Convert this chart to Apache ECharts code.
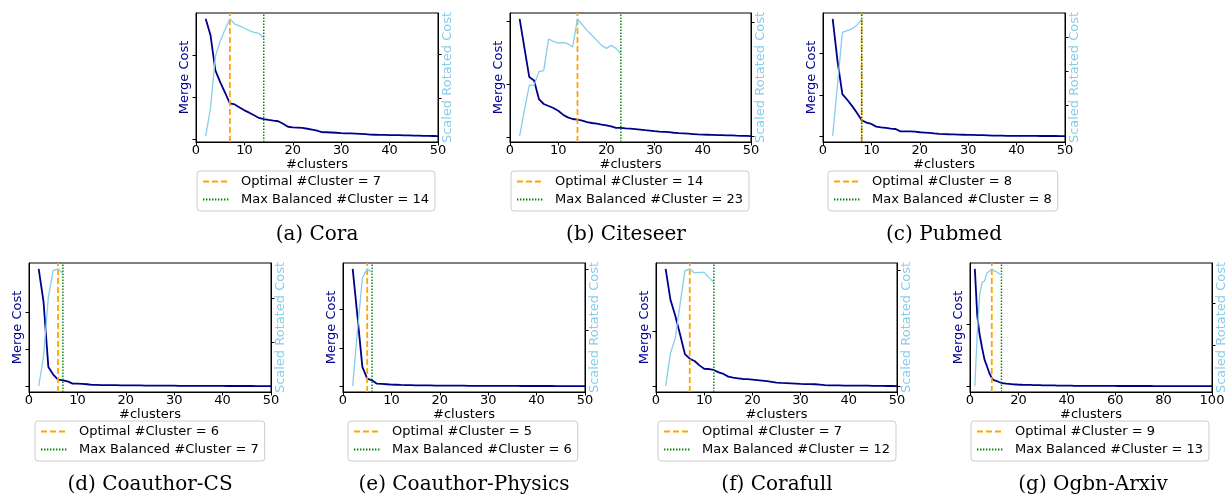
<!DOCTYPE html>
<html><head><meta charset="utf-8">
<script src="https://cdn.jsdelivr.net/npm/echarts@6/dist/echarts.min.js"></script>
<style>html,body{margin:0;padding:0;background:#fff}#c{width:1225px;height:495px}</style>
</head><body><div id="c"></div><script>
// ---------------- DATA ----------------
const firstCluster = 2; // first #clusters value in every series
const captions = ['(a) Cora', '(b) Citeseer', '(c) Pubmed', '(d) Coauthor-CS', '(e) Coauthor-Physics', '(f) Corafull', '(g) Ogbn-Arxiv'];
const optimalK = [7, 14, 8, 6, 5, 7, 9];
const balancedK = [14, 23, 8, 7, 6, 12, 13];
const xMax = [50, 50, 50, 50, 50, 50, 100];
const xInterval = [10, 10, 10, 10, 10, 10, 20];

// Merge cost (scaled 0..100), #clusters = 2 .. xMax
const coraMerge = [100, 86, 56, 46, 37, 28, 27, 24.5, 22, 20, 17.8, 15.5, 14.5, 13.8, 13.2, 12.7, 10.5, 8, 7.5, 7.3, 7, 6.3, 5.5, 4.6, 3.5, 3.3, 3.1, 2.9, 2.6, 2.4, 2.3, 2.2, 2.0, 1.7, 1.3, 1.2, 1.1, 1.0, 0.9, 0.8, 0.8, 0.7, 0.6, 0.5, 0.4, 0.3, 0.2, 0.1, 0];
const citeseerMerge = [100, 75, 50.4, 47.5, 31.6, 27.4, 25.7, 24, 21.7, 18.3, 16, 14.6, 14, 13.2, 12, 11.2, 10.6, 9.8, 9.2, 8.4, 7, 7, 6.6, 6.4, 6, 5.6, 5.1, 4.7, 4.2, 3.9, 3.7, 3.4, 2.9, 2.5, 2.3, 2.1, 1.8, 1.5, 1.3, 1.2, 1.1, 0.9, 0.8, 0.7, 0.6, 0.4, 0.3, 0.2, 0];
const pubmedMerge = [100, 64, 35.8, 31, 25.8, 20, 13.5, 11.5, 10.4, 8.1, 7.5, 7, 6.4, 6.1, 4.1, 4.1, 4.0, 3.8, 3.3, 3.0, 2.7, 2.3, 2.0, 1.8, 1.6, 1.5, 1.3, 1.2, 1.1, 1.0, 0.9, 0.8, 0.7, 0.5, 0.4, 0.4, 0.3, 0.3, 0.3, 0.2, 0.2, 0.2, 0.2, 0.1, 0.1, 0.1, 0.1, 0, 0];
const coauthorCsMerge = [100, 72, 16.4, 9.9, 5.6, 5, 4.1, 2.1, 2.1, 1.9, 1.6, 1.0, 1.0, 0.9, 0.9, 0.8, 0.8, 0.7, 0.7, 0.6, 0.6, 0.6, 0.5, 0.5, 0.5, 0.4, 0.4, 0.4, 0.4, 0.3, 0.3, 0.3, 0.3, 0.3, 0.2, 0.2, 0.2, 0.2, 0.2, 0.1, 0.1, 0.1, 0.1, 0.1, 0.1, 0, 0, 0, 0];
const coauthorPhysicsMerge = [100, 59, 16.4, 6.4, 5, 2.1, 1.9, 1.6, 1.3, 1.2, 1.0, 0.9, 0.8, 0.7, 0.7, 0.6, 0.6, 0.5, 0.5, 0.5, 0.4, 0.4, 0.4, 0.4, 0.3, 0.3, 0.3, 0.3, 0.3, 0.2, 0.2, 0.2, 0.2, 0.2, 0.2, 0.1, 0.1, 0.1, 0.1, 0.1, 0.1, 0.1, 0, 0, 0, 0, 0, 0, 0];
const corafullMerge = [100, 73.6, 60, 44, 27.3, 23.4, 21.4, 17.7, 14.8, 14.6, 13.8, 11.7, 10.4, 8.1, 7.3, 6.7, 6.1, 5.9, 5.6, 5.2, 4.7, 4.2, 3.6, 3.0, 2.7, 2.5, 2.3, 2.1, 1.9, 1.8, 1.7, 1.6, 1.2, 0.8, 0.7, 0.7, 0.6, 0.5, 0.5, 0.5, 0.4, 0.4, 0.4, 0.3, 0.3, 0.2, 0.1, 0.1, 0];
const arxivMerge = [100, 60, 43.8, 32.5, 22.6, 16.9, 11.2, 6.9, 4.9, 4.4, 3.5, 2.7, 2.4, 2.1, 1.9, 1.7, 1.5, 1.4, 1.2,
  1.2, 1.1, 1.1, 1.0, 1.0, 0.9, 0.9, 0.8, 0.8, 0.7, 0.7, 0.7, 0.6, 0.6, 0.6, 0.5, 0.5, 0.5, 0.4, 0.4,
  0.4, 0.4, 0.3, 0.3, 0.3, 0.3, 0.3, 0.3, 0.2, 0.2, 0.2, 0.2, 0.2, 0.2, 0.2, 0.2, 0.2, 0.2, 0.2, 0.2,
  0.1, 0.1, 0.1, 0.1, 0.1, 0.1, 0.1, 0.1, 0.1, 0.1, 0.1, 0.1, 0.1, 0.1, 0.1,
  0, 0, 0, 0, 0, 0, 0, 0, 0, 0, 0, 0, 0, 0, 0, 0, 0, 0, 0, 0, 0, 0, 0, 0, 0];

// Scaled rotated cost (scaled 0..100), #clusters = 2 .. max balanced
const coraRotated = [0, 24, 68, 81, 91, 100, 95.6, 94, 92, 90, 88.5, 87.6, 83.3];
const citeseerRotated = [0, 22.6, 43.3, 43.6, 55, 55.8, 82.8, 80.8, 79.4, 79.7, 78.8, 76, 100, 95, 90, 86, 81.7, 77.4, 74.8, 77.4, 74.8, 70.3];
const pubmedRotated = [0, 44, 88.5, 90, 91.5, 94.5, 100];
const coauthorCsRotated = [0, 25, 76, 98.7, 100, 96];
const coauthorPhysicsRotated = [0, 48, 92, 100, 97];
const corafullRotated = [0, 28, 41, 70, 98.5, 100, 96.5, 97, 97, 92.5, 88.5];
const arxivRotated = [0, 45, 78, 88.5, 89.5, 96.5, 98, 100, 98.2, 97.5, 96, 95];

// y tick positions (no labels) on the left / right axes
const leftTicks = [[-3, 33, 69], [-1, 44, 98], [-0.5, 35, 70.6], [-0.5, 31.5, 63.4], [-0.5, 32.7, 65.5], [-0.5, 47], [-0.5, 53]];
const rightTicks = [[32, 70], [-0.5, 97.5], [26.5, 55, 84], [37, 75], [48, 99.6], [-0.5, 99], [35, 71]];

const mergeSets = [coraMerge, citeseerMerge, pubmedMerge, coauthorCsMerge, coauthorPhysicsMerge, corafullMerge, arxivMerge];
const rotatedSets = [coraRotated, citeseerRotated, pubmedRotated, coauthorCsRotated, coauthorPhysicsRotated, corafullRotated, arxivRotated];

// ---------------- LAYOUT ----------------
const yMin = -5, yMax = 105;
const layouts = [
  {left: 196, top: 13, width: 242, legendLeft: 197, legendTop: 171, capX: 317, capY: 235},
  {left: 510, top: 13, width: 241, legendLeft: 511, legendTop: 171, capX: 626, capY: 235},
  {left: 823, top: 13, width: 242, legendLeft: 828, legendTop: 171, capX: 944, capY: 235},
  {left: 29, top: 263, width: 242, legendLeft: 35, legendTop: 421, capX: 150, capY: 485},
  {left: 343, top: 263, width: 242, legendLeft: 348, legendTop: 421, capX: 464, capY: 485},
  {left: 656, top: 263, width: 241, legendLeft: 658, legendTop: 421, capX: 777, capY: 485},
  {left: 970, top: 263, width: 242, legendLeft: 971, legendTop: 421, capX: 1093, capY: 485}
];
const plotH = 129;
const FONT = 'DejaVu Sans';
const NAVY = '#00008B', SKY = '#87CEEB', ORANGE = '#FFA500', GREEN = '#008000';

const grid = [], xAxis = [], yAxis = [], series = [], legend = [], graphic = [];
layouts.forEach((L, i) => {
  grid.push({left: L.left, top: L.top, width: L.width, height: plotH, show: true, borderColor: '#000', borderWidth: 1, backgroundColor: 'transparent', containLabel: false, outerBoundsMode: 'none'});
  xAxis.push({
    type: 'value', gridIndex: i, min: 0, max: xMax[i], interval: xInterval[i],
    name: '#clusters', nameLocation: 'middle', nameGap: 15,
    nameTextStyle: {fontFamily: FONT, fontSize: 13, color: '#000'},
    axisLine: {show: true, onZero: false, lineStyle: {color: '#000', width: 1}},
    axisTick: {show: true, inside: false, length: 3.5, lineStyle: {color: '#000'}},
    axisLabel: {fontFamily: FONT, fontSize: 13, color: '#000', margin: 2},
    splitLine: {show: false}
  });
  yAxis.push({
    type: 'value', gridIndex: i, position: 'left', min: yMin, max: yMax,
    name: 'Merge Cost', nameLocation: 'middle', nameGap: 5, nameRotate: 90,
    nameTextStyle: {fontFamily: FONT, fontSize: 13, color: NAVY},
    axisLine: {show: true, onZero: false, lineStyle: {color: '#000', width: 1}},
    axisTick: {show: true, length: 3.5, customValues: leftTicks[i], lineStyle: {color: '#000'}},
    axisLabel: {show: false}, splitLine: {show: false}
  });
  yAxis.push({
    type: 'value', gridIndex: i, position: 'right', min: yMin, max: yMax,
    name: 'Scaled Rotated Cost', nameLocation: 'middle', nameGap: 3, nameRotate: 90,
    nameTextStyle: {fontFamily: FONT, fontSize: 13, color: SKY},
    axisLine: {show: true, onZero: false, lineStyle: {color: '#000', width: 1}},
    axisTick: {show: true, length: 3.5, customValues: rightTicks[i], lineStyle: {color: '#000'}},
    axisLabel: {show: false}, splitLine: {show: false}
  });
  const optName = 'Optimal #Cluster = ' + optimalK[i];
  const balName = 'Max Balanced #Cluster = ' + balancedK[i];
  series.push({
    type: 'line', name: 'Merge Cost ' + i, xAxisIndex: i, yAxisIndex: 2 * i, symbol: 'none', silent: true,
    data: mergeSets[i].map((v, j) => [firstCluster + j, v]),
    lineStyle: {color: NAVY, width: 1.8}, z: 2
  });
  series.push({
    type: 'line', name: optName, xAxisIndex: i, yAxisIndex: 2 * i, symbol: 'none', silent: true,
    data: [[optimalK[i], yMin], [optimalK[i], yMax]],
    lineStyle: {color: ORANGE, width: 1.8, type: [6, 3]}, itemStyle: {color: ORANGE}, z: 3
  });
  series.push({
    type: 'line', name: balName, xAxisIndex: i, yAxisIndex: 2 * i, symbol: 'none', silent: true,
    data: [[balancedK[i], yMin], [balancedK[i], yMax]],
    lineStyle: {color: GREEN, width: 1.4, type: [1.4, 1.6]}, itemStyle: {color: GREEN}, z: 3
  });
  series.push({
    type: 'line', name: 'Scaled Rotated Cost ' + i, xAxisIndex: i, yAxisIndex: 2 * i + 1, symbol: 'none', silent: true,
    data: rotatedSets[i].map((v, j) => [firstCluster + j, v]),
    lineStyle: {color: SKY, width: 1.3}, z: 4
  });
  legend.push({
    orient: 'vertical', left: L.legendLeft, top: L.legendTop,
    itemWidth: 26, itemHeight: 14, itemGap: 5, padding: [4, 6, 5, 5],
    borderColor: '#cccccc', borderWidth: 1, borderRadius: 3, backgroundColor: '#fff',
    selectedMode: false, itemStyle: {opacity: 0},
    textStyle: {fontFamily: FONT, fontSize: 13, color: '#000', padding: [0, 0, 0, 7]},
    data: [optName, balName]
  });
  graphic.push({
    type: 'text', x: L.capX, y: L.capY, silent: true,
    style: {text: captions[i], fontFamily: 'DejaVu Serif', fontSize: 20, fill: '#000', align: 'center', verticalAlign: 'middle'}
  });
});

const chart = echarts.init(document.getElementById('c'), null, {renderer: 'canvas'});
chart.setOption({
  animation: false,
  backgroundColor: '#fff',
  grid, xAxis, yAxis, series, legend, graphic
});
</script></body></html>
